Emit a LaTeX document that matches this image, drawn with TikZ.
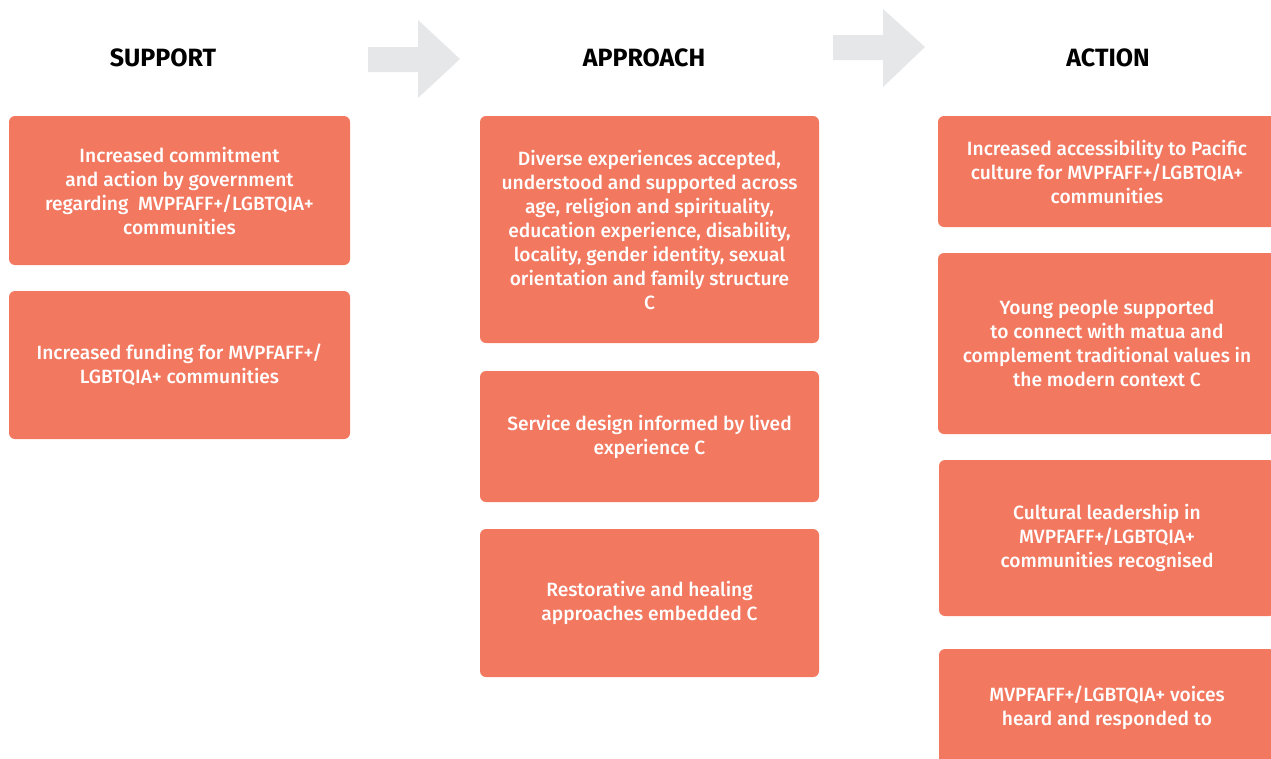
\documentclass[tikz,border=0pt]{standalone}
\usepackage{fontspec}
\setmainfont{Fira Sans}[UprightFont=* Medium, BoldFont=* Bold]
\usepackage{tikz}
\usetikzlibrary{positioning}

\definecolor{boxsalmon}{HTML}{F27860}
\definecolor{arrowgrey}{HTML}{E6E7E8}

\begin{document}
\begin{tikzpicture}[
    x=1pt, y=-1pt,
    every node/.style={inner sep=0pt, align=center},
    heading/.style={font=\fontsize{25}{28}\selectfont\bfseries},
    goalbox/.style={fill=boxsalmon, rounded corners=6pt, text=white,
      font=\fontsize{19.2}{24}\selectfont},
    bigarrow/.style={fill=arrowgrey}
  ]

  \useasboundingbox (0,0) rectangle (1271,758);

  % Column headings
  \node[heading] (support) at (163,58) {SUPPORT};
  \node[heading] (approach) at (644,58) {APPROACH};
  \node[heading] (action) at (1108,58) {ACTION};

  % Grey arrows between headings
  \fill[bigarrow] (368,47) -- (418,47) -- (418,20) -- (460,59)
    -- (418,98) -- (418,72) -- (368,72) -- cycle;
  \fill[bigarrow] (833,35) -- (883,35) -- (883,9) -- (925,47)
    -- (883,87) -- (883,60) -- (833,60) -- cycle;

  % Support column
  \node[goalbox, minimum width=341, minimum height=149] (sup1) at (179.5,190.5)
    {Increased commitment\\and action by government\\regarding\ \ MVPFAFF+/LGBTQIA+\\communities};
  \node[goalbox, minimum width=341, minimum height=148] (sup2) at (179.5,365)
    {Increased funding for MVPFAFF+/\\LGBTQIA+ communities};

  % Approach column
  \node[goalbox, minimum width=339, minimum height=227] (app1) at (649.5,229.5)
    {Diverse experiences accepted,\\understood and supported across\\age, religion and spirituality,\\education experience, disability,\\locality, gender identity, sexual\\orientation and family structure\\C};
  \node[goalbox, minimum width=339, minimum height=131] (app2) at (649.5,436.5)
    {Service design informed by lived\\experience C};
  \node[goalbox, minimum width=339, minimum height=148] (app3) at (649.5,603)
    {Restorative and healing\\approaches embedded C};

  % Action column
  \node[goalbox, minimum width=338, minimum height=111] (act1) at (1107,171.5)
    {Increased accessibility to Pacific\\culture for MVPFAFF+/LGBTQIA+\\communities};
  \node[goalbox, minimum width=338, minimum height=181] (act2) at (1107,343.5)
    {Young people supported\\to connect with matua and\\complement traditional values in\\the modern context C};
  \node[goalbox, minimum width=336, minimum height=156] (act3) at (1107,538)
    {Cultural leadership in\\MVPFAFF+/LGBTQIA+\\communities recognised};
  \node[goalbox, minimum width=336, minimum height=118] (act4) at (1107,708)
    {MVPFAFF+/LGBTQIA+ voices\\heard and responded to};

\end{tikzpicture}
\end{document}
